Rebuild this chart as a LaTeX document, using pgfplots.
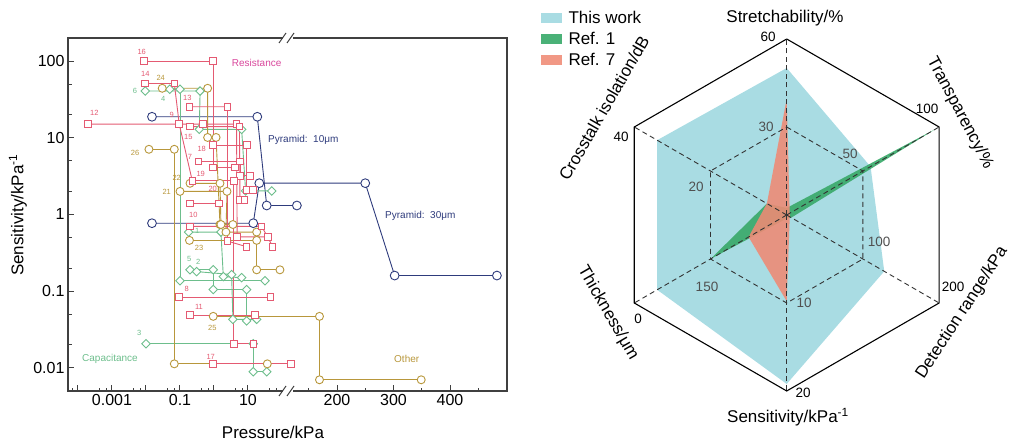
\documentclass[border=0pt]{standalone}
\usepackage{pgfplots}
\pgfplotsset{compat=1.18}
\usepgfplotslibrary{polar}
\usepackage{fontspec}
\setmainfont{Liberation Sans}
\definecolor{cRes}{HTML}{E45A72}
\definecolor{cResT}{HTML}{D9479C}
\definecolor{cCap}{HTML}{6DBE8C}
\definecolor{cOth}{HTML}{B8973B}
\definecolor{cPyr}{HTML}{2E3B7C}
\definecolor{cWork}{HTML}{A9DCE3}
\definecolor{cRefA}{HTML}{3BAA6B}
\definecolor{cRefB}{HTML}{EF8A74}
\definecolor{cFrame}{HTML}{404040}
\definecolor{cGrid}{HTML}{333333}
\definecolor{cIn}{HTML}{505050}
\newcommand\fT{\fontsize{17}{20}\selectfont}
\newcommand\fA{\fontsize{16}{19}\selectfont}
\newcommand\fB{\fontsize{13.5}{16}\selectfont}
\newcommand\fC{\fontsize{10}{12}\selectfont}
\newcommand\fN{\fontsize{7.5}{9}\selectfont}
\pgfplotsset{
  res/.style={color=cRes, line width=0.9pt, mark=square*, mark size=3.3pt, mark options={fill=white, solid, line width=0.9pt}},
  cap/.style={color=cCap, line width=0.9pt, mark=square*, mark size=3pt, mark options={fill=white, rotate=45, line width=0.9pt}},
  oth/.style={color=cOth, line width=0.9pt, mark=*, mark size=4pt, mark options={fill=white, line width=0.9pt}},
  pyr/.style={color=cPyr, line width=0.9pt, mark=*, mark size=4.4pt, mark options={fill=white, line width=0.9pt}},
}
\begin{document}
\begin{tikzpicture}
\path[use as bounding box] (0pt,0pt) rectangle (1014pt,443pt);
% ---------------- left chart ----------------
\begin{axis}[
 at={(68pt,52pt)}, anchor=south west, scale only axis, width=439pt, height=353pt,
 xmin=-4.294, xmax=8.618, ymode=log, ymin=0.005, ymax=200,
 x filter/.expression={x<105 ? ln(x)*0.4342945 : 3.618+(x-200)*0.01662},
 axis line style={cFrame, line width=1.3pt},
 xtick={-4,-3,-2,-1,0,1,3.618,5.280,6.942},
 xticklabels={,0.001,,0.1,,10,200,300,400},
 minor xtick={-4.38,-4.17,-3.38,-3.17,-2.38,-2.17,-1.38,-1.17,-0.38,-0.17,0.62,0.83,1.62,1.83,2.787,4.449,6.111,7.773},
 ytick={0.01,0.1,1,10,100}, yticklabels={0.01,0.1,1,10,100},
 minor ytick={0.02,0.05,0.2,0.5,2,5,20,50},
 tick align=inside, xtick pos=bottom, ytick pos=left,
 major tick length=6pt, minor tick length=3.5pt,
 tick style={cFrame, line width=1pt},
 tick label style={font=\fA, black},
 clip=false,
]
% Pyramid
\addplot[pyr] coordinates {(0.015,18.8)(18.8,18.8)(35.5,1.31)(129,1.31)};
\addplot[pyr] coordinates {(0.015,0.77)(14.3,0.77)(21.5,2.56)(250,2.56)(302,0.16)(483,0.16)};
% Capacitance
\addplot[cap] coordinates {(0.0095,40.7)(0.39,40.7)(0.37,12.9)(6.5,12.9)(8.5,2.03)(50,2.03)};
\addplot[cap] coordinates {(0.05,43)(0.1,43)(0.1,0.137)(31.6,0.137)};
\addplot[cap] coordinates {(0.18,0.59)(1.6,0.59)(1.88,0.155)(6.5,0.15)};
\addplot[cap] coordinates {(0.197,0.19)(0.95,0.19)(0.95,0.105)(9.1,0.105)(9.1,0.041)};
\addplot[cap] coordinates {(0.31,0.18)(3.3,0.165)(3.6,0.043)(18,0.043)};
\addplot[cap] coordinates {(0.01,0.0207)(14.3,0.0207)(14.3,0.0089)(35.5,0.0089)};
% Other
\addplot[oth] coordinates {(0.030,44.2)(0.65,44.2)(0.65,10.1)(1.15,10.1)(1.5,0.74)};
\addplot[oth] coordinates {(0.0122,7.08)(0.068,7.08)(0.068,0.0113)(37,0.0113)};
\addplot[oth] coordinates {(0.197,2.55)(1.5,2.55)(1.6,0.74)(3.6,0.74)};
\addplot[oth] coordinates {(0.1,2.0)(2.41,2.0)(2.25,0.59)(18,0.59)};
\addplot[oth] coordinates {(0.19,0.46)(18,0.46)(18,0.19)(87,0.19)};
\addplot[oth] coordinates {(0.95,0.047)(169,0.047)(169,0.007)(349,0.007)};
% Resistance
\addplot[res] coordinates {(0.0087,100)(0.95,100)(0.95,4.1)(4.15,4.1)};
\addplot[res] coordinates {(0.0094,51)(0.068,51)(0.095,15.1)(0.23,2.74)};
\addplot[res] coordinates {(0.19,25.4)(2.5,25.4)(2.5,0.45)(9.1,0.38)};
\addplot[res] coordinates {(0.0002,15.1)(0.095,15.1)(0.48,15.1)(4.6,15.1)(4.8,0.51)(38,0.51)};
\addplot[res] coordinates {(0.197,14.0)(5.6,14.0)(5.8,1.55)(7.8,1.55)};
\addplot[res] coordinates {(0.95,8.05)(9.3,8.05)(9.3,2.1)(14,2.1)};
\addplot[res] coordinates {(0.35,4.9)(5.8,4.9)(5.8,3.2)(11.5,3.2)};
\addplot[res] coordinates {(0.23,2.74)(3.8,2.74)(3.8,0.0207)(14.3,0.0207)};
\addplot[res] coordinates {(0.197,1.39)(1.4,1.39)};
\addplot[res] coordinates {(0.197,0.70)(25,0.70)(38,0.51)(53,0.38)};
\addplot[res] coordinates {(0.095,0.084)(46,0.084)};
\addplot[res] coordinates {(0.197,0.049)(16,0.049)};
\addplot[res] coordinates {(0.95,0.0113)(118,0.0113)};
\end{axis}
% axis breaks
\fill[white] (283pt,48pt) rectangle (293pt,56pt);
\fill[white] (283pt,401pt) rectangle (293pt,409pt);
\draw[cFrame, line width=1pt] (279pt,47pt)--(286pt,57pt) (287pt,47pt)--(294pt,57pt);
\draw[cFrame, line width=1pt] (279pt,400pt)--(286pt,410pt) (287pt,400pt)--(294pt,410pt);
% axis titles
\node[font=\fT] at (273pt,11pt) {Pressure/kPa};
\node[font=\fT, rotate=90] at (18pt,228pt) {Sensitivity/kPa\textsuperscript{-1}};
% annotations
\begin{scope}[every node/.style={font=\fN, inner sep=0pt}]
\node[cRes] at (141.7pt,390.7pt) {16};
\node[cRes] at (145.3pt,369pt) {14};
\node[cOth] at (160.7pt,364.7pt) {24};
\node[cCap] at (135pt,352pt) {6};
\node[cCap] at (163.3pt,344pt) {4};
\node[cRes] at (187.3pt,344.7pt) {13};
\node[cRes] at (94.3pt,329.7pt) {12};
\node[cRes] at (171.7pt,328pt) {9};
\node[cRes] at (188.3pt,306.3pt) {15};
\node[cOth] at (135pt,289.7pt) {26};
\node[cRes] at (201.7pt,293.7pt) {18};
\node[cRes] at (190pt,286.3pt) {7};
\node[cRes] at (200.7pt,269pt) {19};
\node[cOth] at (176.7pt,264.7pt) {22};
\node[cOth] at (166.7pt,251.3pt) {21};
\node[cRes] at (212.7pt,254pt) {20};
\node[cRes] at (193.3pt,228pt) {10};
\node[cCap] at (197.3pt,212.3pt) {1};
\node[cOth] at (199pt,194.7pt) {23};
\node[cCap] at (189.3pt,183.7pt) {5};
\node[cCap] at (198.3pt,181.3pt) {2};
\node[cRes] at (186.7pt,153.7pt) {8};
\node[cRes] at (199pt,135.7pt) {11};
\node[cOth] at (212.3pt,114.7pt) {25};
\node[cCap] at (139.3pt,110.3pt) {3};
\node[cRes] at (210.7pt,86.3pt) {17};
\end{scope}
\node[cCap, font=\fC] at (110pt,84.3pt) {Capacitance};
\node[cResT, font=\fC] at (256.7pt,379.7pt) {Resistance};
\node[cOth, font=\fC] at (406.7pt,84.3pt) {Other};
\node[cPyr, font=\fC, anchor=west, inner sep=0pt] at (268pt,303pt) {Pyramid:\ \ 10μm};
\node[cPyr, font=\fC, anchor=west, inner sep=0pt] at (385pt,227pt) {Pyramid:\ \ 30μm};
% ---------------- radar chart ----------------
\begin{axis}[
 at={(786.7pt,228pt)}, anchor=center, scale only axis, width=352pt, height=352pt,
 xmin=-1, xmax=1, ymin=-1, ymax=1, hide axis, clip=false,
 legend style={draw=none, fill=none, at={(-0.2,1.085)}, anchor=north west, font=\fT,
   inner sep=0pt, row sep=3pt, cells={anchor=west},
   /tikz/every odd column/.append style={column sep=5pt}},
 legend image code/.code={\fill[#1] (0pt,-5pt) rectangle (21pt,5pt);},
]
\addplot[fill=cWork, draw=none, data cs=polar] coordinates {(90,0.835)(30,0.55)(-30,0.64)(-90,0.96)(-150,0.85)(150,0.85)(90,0.835)};
\addlegendentry{This work}
\addplot[fill=cRefA, draw=none, fill opacity=0.92, data cs=polar] coordinates {(90,0.04)(30,0.98)(-30,0.03)(-90,0.02)(-150,0.5)(150,0.13)(90,0.04)};
\addlegendentry{Ref. 1}
\addplot[fill=cRefB, draw=none, fill opacity=0.88, data cs=polar] coordinates {(90,0.66)(30,0.02)(-30,0.02)(-90,0.49)(-150,0.25)(150,0.13)(90,0.66)};
\addlegendentry{Ref. 7}
% grid
\addplot[forget plot, cGrid, line width=0.9pt, dash pattern=on 5pt off 3.5pt, data cs=polar] coordinates {(90,0.5)(30,0.5)(-30,0.5)(-90,0.5)(-150,0.5)(150,0.5)(90,0.5)};
\addplot[forget plot, cGrid, line width=0.9pt, dash pattern=on 5pt off 3.5pt, data cs=polar] coordinates {(90,0)(90,1)};
\addplot[forget plot, cGrid, line width=0.9pt, dash pattern=on 5pt off 3.5pt, data cs=polar] coordinates {(30,0)(30,1)};
\addplot[forget plot, cGrid, line width=0.9pt, dash pattern=on 5pt off 3.5pt, data cs=polar] coordinates {(-30,0)(-30,1)};
\addplot[forget plot, cGrid, line width=0.9pt, dash pattern=on 5pt off 3.5pt, data cs=polar] coordinates {(-90,0)(-90,1)};
\addplot[forget plot, cGrid, line width=0.9pt, dash pattern=on 5pt off 3.5pt, data cs=polar] coordinates {(-150,0)(-150,1)};
\addplot[forget plot, cGrid, line width=0.9pt, dash pattern=on 5pt off 3.5pt, data cs=polar] coordinates {(150,0)(150,1)};
\addplot[forget plot, black, line width=1.1pt, data cs=polar] coordinates {(90,1)(30,1)(-30,1)(-90,1)(-150,1)(150,1)(90,1)};
\end{axis}
% radar labels
\node[font=\fT] at (785pt,425pt) {Stretchability/\%};
\node[font=\fT, rotate=-62] at (960pt,330pt) {Transparency/\%};
\node[font=\fT, rotate=57] at (962pt,130pt) {Detection range/kPa};
\node[font=\fT] at (788pt,26pt) {Sensitivity/kPa\textsuperscript{-1}};
\node[font=\fT, rotate=-60] at (608pt,130pt) {Thickness/μm};
\node[font=\fT, rotate=60] at (604pt,335pt) {Crosstalk isolation/dB};
\begin{scope}[every node/.style={font=\fB, inner sep=0pt}]
\node at (768pt,406pt) {60};
\node at (927pt,334pt) {100};
\node at (953pt,156pt) {200};
\node at (803pt,50pt) {20};
\node at (638pt,124pt) {0};
\node at (621pt,306pt) {40};
\node[cIn] at (766pt,316pt) {30};
\node[cIn] at (850pt,289pt) {50};
\node[cIn] at (879pt,201pt) {100};
\node[cIn] at (804pt,140pt) {10};
\node[cIn] at (707pt,156pt) {150};
\node[cIn] at (696pt,256pt) {20};
\end{scope}
\end{tikzpicture}
\end{document}
